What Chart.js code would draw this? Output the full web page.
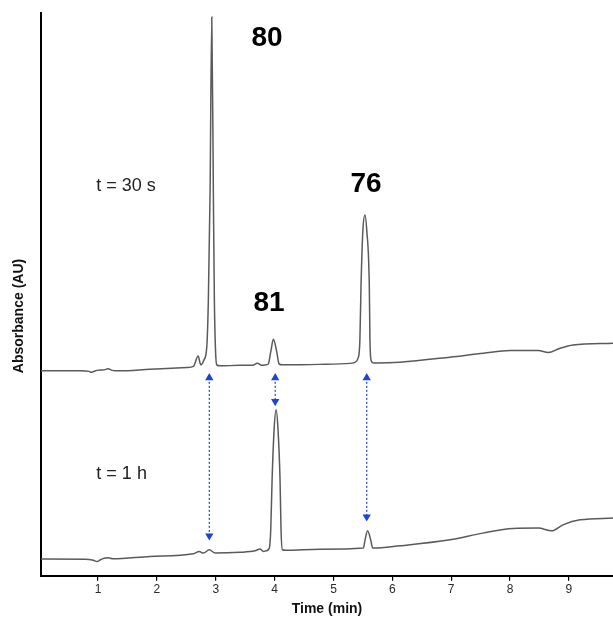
<!DOCTYPE html>
<html>
<head>
<meta charset="utf-8">
<title>HPLC traces</title>
<script src="https://cdn.jsdelivr.net/npm/chart.js@4.4.1/dist/chart.umd.min.js"></script>
<style>
  html, body { margin: 0; padding: 0; background: #fff; }
  #wrap { width: 613px; height: 618px; }
</style>
</head>
<body>
<div id="wrap"><canvas id="chartHplc"></canvas></div>
<script>
// retention time (min) / absorbance (relative units)
const time30s = [0.03, 0.69, 0.85, 0.88, 0.93, 0.98, 1.10, 1.17, 1.24, 1.35, 1.88, 2.51, 2.62, 2.70, 2.745, 2.80,
  2.847, 2.874, 2.903, 2.932, 2.959, 2.976, 2.996, 3.016, 3.07, 3.41, 3.62, 3.706, 3.79, 3.854, 3.893, 3.934,
  3.979, 4.036, 4.075, 4.126, 4.77, 5.28, 5.337, 5.42, 5.449, 5.468, 5.50, 5.536, 5.565, 5.609, 5.62, 5.637,
  5.677, 5.72, 6.13, 6.98, 7.55, 8.00, 8.48, 8.65, 8.85, 9.07, 9.75];
const abs30s = [205, 205, 204.5, 203.5, 204.5, 205.5, 206, 207, 205.5, 205, 206.5, 208.3, 209.5, 220, 211, 216,
  229, 276, 383, 559, 383, 276, 225, 211, 210, 210.5, 210.5, 212.7, 210.5, 211, 212, 224,
  236.7, 224, 212, 211, 211.5, 212.5, 213, 218, 236, 290, 346, 361, 346, 290, 236, 216,
  213, 213, 213.7, 218.7, 222.7, 225.3, 225.3, 223.3, 227.7, 231, 232.7];

const time1h = [0.03, 0.78, 0.92, 0.98, 1.04, 1.10, 1.17, 1.25, 1.88, 2.62, 2.72, 2.79, 2.89, 2.99, 3.41, 3.667,
  3.752, 3.81, 3.854, 3.91, 3.934, 3.957, 3.991, 4.025, 4.058, 4.092, 4.109, 4.131, 4.19, 4.77, 5.508, 5.537,
  5.58, 5.632, 5.666, 6.13, 6.98, 7.54, 8.05, 8.48, 8.71, 8.90, 9.19, 9.75];
const abs1h = [16.7, 16.5, 15.5, 14.3, 16, 17.5, 18, 17, 19.3, 22, 24.3, 22.7, 26, 22.7, 23.5, 25,
  26.7, 24.3, 25, 27.7, 46, 96, 146, 166, 146, 96, 46, 26, 25.5, 26.5, 27.7, 36,
  45, 36, 27.7, 30, 36, 42.7, 47.3, 47.7, 45, 51, 56, 57.7];

const xTicks = [1, 2, 3, 4, 5, 6, 7, 8, 9];

// dotted arrows joining the same retention time in both runs
const arrowTime = [2.89, 4.01, 5.565];
const arrowTop = [198, 198, 198];
const arrowBottom = [40, 174.5, 59];

const peakLabels = ["80", "81", "76"];
const peakLabelTime = [3.87, 3.905, 5.553];
const peakLabelAbs = [538, 273, 392];

const runLabels = ["t = 30 s", "t = 1 h"];
const runLabelTime = [1.476, 1.40];
const runLabelAbs = [390, 102];

const fuente = "'Liberation Sans', Arial, sans-serif";
const azul = "#1e44d6";
const gris = "#5a5a5a";

const toPoints = (ts, vs) => ts.map((t, i) => ({ x: t, y: vs[i] }));

const arrowSets = arrowTime.map((t, i) => ({
  label: "arrow" + i,
  data: [{ x: t, y: arrowTop[i] }, { x: t, y: arrowBottom[i] }],
  borderColor: azul,
  borderWidth: 1.2,
  borderDash: [2, 2],
  pointStyle: "triangle",
  pointRadius: 4.8,
  pointRotation: [0, 180],
  pointBackgroundColor: azul,
  pointBorderColor: azul,
  pointBorderWidth: 0,
  tension: 0,
}));

const textos = {
  id: "textos",
  afterDatasetsDraw(chart) {
    const { ctx, scales: { x, y } } = chart;
    ctx.save();
    ctx.textAlign = "center";
    ctx.textBaseline = "middle";

    ctx.fillStyle = "#000";
    ctx.font = "bold 28px " + fuente;
    peakLabels.forEach((txt, i) => {
      ctx.fillText(txt, x.getPixelForValue(peakLabelTime[i]), y.getPixelForValue(peakLabelAbs[i]));
    });

    ctx.fillStyle = "#222";
    ctx.font = "18px " + fuente;
    runLabels.forEach((txt, i) => {
      ctx.fillText(txt, x.getPixelForValue(runLabelTime[i]), y.getPixelForValue(runLabelAbs[i]));
    });

    // y title sits lower than the axis middle in the original
    ctx.translate(19, 316);
    ctx.rotate(-Math.PI / 2);
    ctx.fillStyle = "#111";
    ctx.font = "bold 14px " + fuente;
    ctx.fillText("Absorbance (AU)", 0, 0);
    ctx.restore();
  },
};

const canvas = document.getElementById("chartHplc");

const chartHplc = new Chart(canvas.getContext("2d"), {
  type: "line",
  data: {
    datasets: [
      {
        label: "t = 30 s",
        data: toPoints(time30s, abs30s),
        borderColor: gris,
        borderWidth: 1.5,
        pointRadius: 0,
        cubicInterpolationMode: "monotone",
      },
      {
        label: "t = 1 h",
        data: toPoints(time1h, abs1h),
        borderColor: gris,
        borderWidth: 1.5,
        pointRadius: 0,
        cubicInterpolationMode: "monotone",
      },
      ...arrowSets,
    ],
  },
  options: {
    responsive: true,
    maintainAspectRatio: false,
    animation: false,
    layout: { autoPadding: false, padding: { top: 13, left: 41, right: 0, bottom: 0 } },
    plugins: { legend: { display: false }, tooltip: { enabled: false } },
    scales: {
      x: {
        type: "linear",
        min: 0.03,
        max: 9.75,
        afterBuildTicks: (scale) => {
          scale.ticks = xTicks.map((v) => ({ value: v }));
        },
        grid: { drawOnChartArea: false, drawTicks: true, tickLength: 5, color: "#000", lineWidth: 1.2 },
        border: { color: "#000", width: 2 },
        ticks: { color: "#2b2b2b", font: { size: 12, family: fuente }, padding: 2, maxRotation: 0 },
        title: {
          display: true,
          text: "Time (min)",
          color: "#111",
          font: { size: 14, weight: "bold", family: fuente },
          padding: { top: 2, bottom: 0 },
        },
      },
      y: {
        type: "linear",
        min: 0,
        max: 563,
        ticks: { display: false },
        grid: { drawOnChartArea: false, drawTicks: false },
        border: { color: "#000", width: 2 },
      },
    },
  },
  plugins: [textos],
});
</script>
</body>
</html>
